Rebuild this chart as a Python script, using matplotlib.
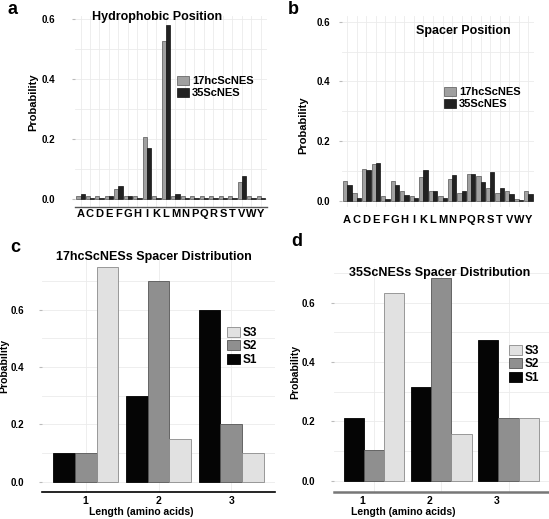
import numpy as np
import matplotlib
matplotlib.use('Agg')
import matplotlib.pyplot as plt
from matplotlib.transforms import ScaledTranslation

plt.rcParams['font.family'] = ['Liberation Sans', 'DejaVu Sans']
plt.rcParams['font.weight'] = 'bold'

W, H = 549, 519

amino = list('ACDEFGHIKLMNPQRSTVWY')
hydro_17hc = [0.009, 0.009, 0.009, 0.009, 0.033, 0.009, 0.009, 0.205, 0.009, 0.527,
              0.009, 0.009, 0.009, 0.009, 0.009, 0.009, 0.009, 0.055, 0.009, 0.009]
hydro_35 = [0.018, 0.004, 0.004, 0.011, 0.043, 0.011, 0.004, 0.170, 0.004, 0.579,
            0.018, 0.004, 0.004, 0.004, 0.004, 0.004, 0.004, 0.075, 0.004, 0.004]
spacer_17hc = [0.068, 0.027, 0.108, 0.124, 0.017, 0.067, 0.033, 0.017, 0.082, 0.033,
               0.017, 0.073, 0.027, 0.090, 0.084, 0.042, 0.027, 0.033, 0.008, 0.033]
spacer_35 = [0.052, 0.011, 0.105, 0.127, 0.006, 0.052, 0.021, 0.009, 0.105, 0.033,
             0.009, 0.087, 0.033, 0.092, 0.062, 0.097, 0.044, 0.022, 0.004, 0.022]

lengths = [1, 2, 3]
dist17_s1 = [0.10, 0.30, 0.60]
dist17_s2 = [0.10, 0.70, 0.20]
dist17_s3 = [0.75, 0.15, 0.10]
dist35_s1 = [0.211, 0.316, 0.474]
dist35_s2 = [0.105, 0.684, 0.211]
dist35_s3 = [0.632, 0.158, 0.211]

fig = plt.figure(figsize=(W / 100, H / 100), dpi=100)


def px_axes(l, t, r, b):
    return fig.add_axes([l / W, 1 - b / H, (r - l) / W, (b - t) / H])


def ftext(x, y, s, **kw):
    fig.text(x / W, 1 - y / H, s, ha=kw.pop('ha', 'center'), va=kw.pop('va', 'center'),
             fontweight='bold', **kw)


def style(ax, ypad, line=None):
    for sp in ax.spines.values():
        sp.set_visible(False)
    if line is not None:
        ax.spines['bottom'].set_visible(True)
        ax.spines['bottom'].set_color(line[0])
        ax.spines['bottom'].set_linewidth(line[1])
    ax.grid(which='both', color='#ebebeb', lw=0.6)
    ax.set_axisbelow(True)
    ax.tick_params(axis='y', which='major', length=2, color='#bbbbbb', pad=ypad, labelsize=7)
    ax.tick_params(axis='y', which='minor', length=0)
    ax.tick_params(axis='x', length=0, labelsize=8)


def legend(ax, handles, labels, x, y, size=8):
    ax.legend(handles, labels, loc='upper left', bbox_to_anchor=(x / W, 1 - y / H),
              bbox_transform=fig.transFigure, frameon=False, handlelength=1.1,
              handleheight=0.9, handletextpad=0.25, labelspacing=0.12, borderpad=0,
              borderaxespad=0, prop=dict(weight='bold', size=size))


def aa_panel(ax, v17, v35, ylim, ypad, xpad, line):
    x = np.arange(len(amino))
    b1 = ax.bar(x - 0.225, v17, 0.45, color='#a0a0a0', edgecolor='#555555', lw=0.5)
    b2 = ax.bar(x + 0.225, v35, 0.45, color='#222222', edgecolor='#111111', lw=0.5)
    ax.set_xlim(-0.6, 19.6)
    ax.set_ylim(*ylim)
    ax.set_xticks(x)
    ax.set_xticklabels(amino)
    ax.set_yticks([0, 0.2, 0.4, 0.6])
    ax.set_yticklabels(['0.0', '0.2', '0.4', '0.6'])
    ax.set_yticks([0.1, 0.3, 0.5], minor=True)
    style(ax, ypad, line)
    ax.tick_params(axis='x', pad=xpad)
    return b1, b2


def dist_panel(ax, s1, s2, s3, ylim, ypad, line):
    x = np.array(lengths)
    h1 = ax.bar(x - 0.3, s1, 0.3, color='#050505', edgecolor='#000000', lw=0.6)
    h2 = ax.bar(x, s2, 0.3, color='#8f8f8f', edgecolor='#555555', lw=0.6)
    h3 = ax.bar(x + 0.3, s3, 0.3, color='#e1e1e1', edgecolor='#8a8a8a', lw=0.6)
    ax.set_xlim(0.4, 3.6)
    ax.set_ylim(*ylim)
    ax.set_xticks(x)
    ax.set_xticklabels([str(v) for v in lengths])
    ax.set_yticks([0, 0.2, 0.4, 0.6])
    ax.set_yticklabels(['0.0', '0.2', '0.4', '0.6'])
    ax.set_yticks([0.1, 0.3, 0.5, 0.7], minor=True)
    style(ax, ypad, line)
    ax.tick_params(axis='x', pad=3, labelsize=7.5)
    return h1, h2, h3


# a
ax_a = px_axes(74.8, 16, 266.7, 207)
b1, b2 = aa_panel(ax_a, hydro_17hc, hydro_35, (-0.027, 0.61), 12, 1.5, ('#555555', 1.0))
legend(ax_a, [b1, b2], ['17hcScNES', '35ScNES'], 177, 76)
ftext(157, 17, 'Hydrophobic Position', fontsize=9)
ftext(33, 102, 'Probability', fontsize=8, rotation=90)
ftext(13, 10, 'a', fontsize=13)

# b
ax_b = px_axes(341.5, 15.7, 534, 207)
b1, b2 = aa_panel(ax_b, spacer_17hc, spacer_35, (-0.02, 0.62), 6, 6, None)
legend(ax_b, [b1, b2], ['17hcScNES', '35ScNES'], 444, 87)
ftext(463, 31, 'Spacer Position', fontsize=9)
ftext(303, 125, 'Probability', fontsize=8, rotation=90)
ftext(293, 9, 'b', fontsize=13)

# c
ax_c = px_axes(42, 255.2, 275, 492)
h1, h2, h3 = dist_panel(ax_c, dist17_s1, dist17_s2, dist17_s3, (-0.036, 0.79), 11, ('#000000', 1.2))
legend(ax_c, [h3, h2, h1], ['S3', 'S2', 'S1'], 227, 327, size=8.5)
ftext(154, 257, '17hcScNESs Spacer Distribution', fontsize=9)
ftext(141, 512, 'Length (amino acids)', fontsize=7.5)
ftext(4, 366, 'Probability', fontsize=7.5, rotation=90)
ftext(15, 247, 'c', fontsize=13)

# d
ax_d = px_axes(333.5, 267.1, 549, 491.7)
h1, h2, h3 = dist_panel(ax_d, dist35_s1, dist35_s2, dist35_s3, (-0.037, 0.72), 11, ('#777777', 1.8))
for lab in ax_d.get_xticklabels():
    lab.set_transform(lab.get_transform() + ScaledTranslation(-0.12, 0, fig.dpi_scale_trans))
legend(ax_d, [h3, h2, h1], ['S3', 'S2', 'S1'], 509, 345, size=8.5)
ftext(440, 273, '35ScNESs Spacer Distribution', fontsize=9)
ftext(403, 512, 'Length (amino acids)', fontsize=7.5)
ftext(295, 372, 'Probability', fontsize=7.5, rotation=90)
ftext(297, 241, 'd', fontsize=13)

fig.savefig('out.png', dpi=100)
